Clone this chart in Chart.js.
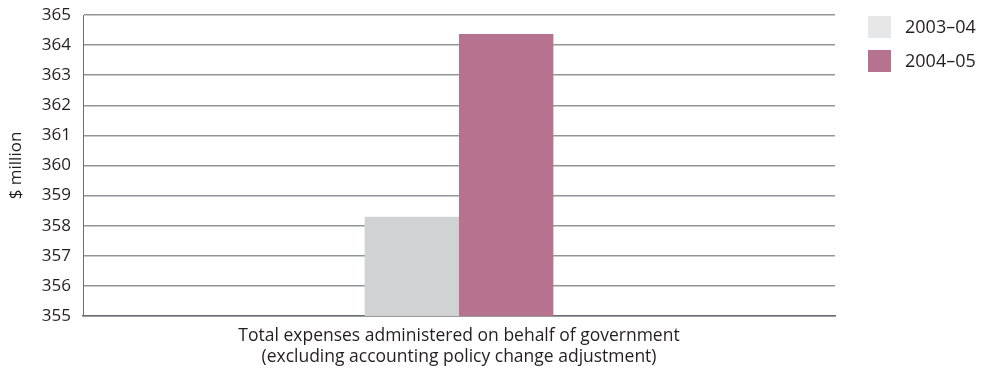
<!DOCTYPE html>
<html lang="en">
<head>
  <meta charset="UTF-8">
  <title>Expenses administered</title>
  <style>
    html, body { margin: 0; padding: 0; background: #fff; }
    .wrap { width: 981px; height: 371px; position: relative; }
    .legend { position: absolute; left: 868px; top: 16px; font-family: "Open Sans", sans-serif; font-size: 18px; color: #231f20; }
    .legend div { position: relative; height: 34px; }
    .legend span.sw { position: absolute; left: 0; top: 0; width: 23px; height: 22px; }
    .legend span.tx { position: absolute; left: 37px; top: -2px; line-height: 24px; white-space: nowrap; }
  </style>
</head>
<body>
  <div class="wrap">
    <canvas id="myChart"></canvas>
    <div class="legend" id="legend"></div>
  </div>
<script src="https://cdn.jsdelivr.net/npm/chart.js@4"></script>
<script>
const categories = [['Total expenses administered on behalf of government', '(excluding accounting policy change adjustment)']];
const series2003 = [358.3];
const series2004 = [364.37];
const seriesNames = ['2003–04', '2004–05'];
const yTicks = [355, 356, 357, 358, 359, 360, 361, 362, 363, 364, 365];

const barColors = ['#d1d2d4', '#b7728f'];
const swatchColors = ['#e6e7e8', '#b7728f'];
const fontFamily = '"Open Sans", sans-serif';

// legend
const legendEl = document.getElementById('legend');
seriesNames.forEach((name, i) => {
  const row = document.createElement('div');
  row.innerHTML = '<span class="sw" style="background:' + swatchColors[i] + '"></span><span class="tx">' + name + '</span>';
  legendEl.appendChild(row);
});

const ctx = document.getElementById('myChart').getContext('2d');
const chart = new Chart(ctx, {
  type: 'bar',
  data: {
    labels: categories,
    datasets: [{
      label: seriesNames[0],
      data: series2003,
      backgroundColor: barColors[0]
    }, {
      label: seriesNames[1],
      data: series2004,
      backgroundColor: barColors[1]
    }]
  },
  options: {
    responsive: true,
    maintainAspectRatio: false,
    animation: false,
    layout: { padding: { top: 15, right: 146, left: 4, bottom: 0 } },
    datasets: {
      bar: { categoryPercentage: 0.251, barPercentage: 1 }
    },
    plugins: {
      tooltip: { enabled: false },
      legend: { display: false }
    },
    scales: {
      x: {
        grid: { display: false, drawTicks: false },
        border: { color: '#6d6e71', width: 1.5 },
        afterFit(scale) { scale.height = 55; },
        ticks: {
          color: '#231f20',
          font: { family: fontFamily, size: 17.5, lineHeight: 1.22 },
          padding: 9,
          maxRotation: 0,
          autoSkip: false
        }
      },
      y: {
        min: yTicks[0],
        max: yTicks[yTicks.length - 1],
        afterBuildTicks(scale) { scale.ticks = yTicks.map(v => ({ value: v })); },
        afterFit(scale) {
          scale.width = 79;
          scale.paddingTop = 0;
          scale.paddingBottom = 0;
        },
        ticks: {
          color: '#231f20',
          font: { family: fontFamily, size: 17 },
          padding: 12
        },
        grid: { color: '#939598', lineWidth: 1.5, drawTicks: false },
        border: { color: '#6d6e71', width: 1 },
        title: {
          display: true,
          text: '$ million',
          color: '#231f20',
          font: { family: fontFamily, size: 17 },
          padding: { top: 2, bottom: 0 }
        }
      }
    }
  }
});
</script>
</body>
</html>
